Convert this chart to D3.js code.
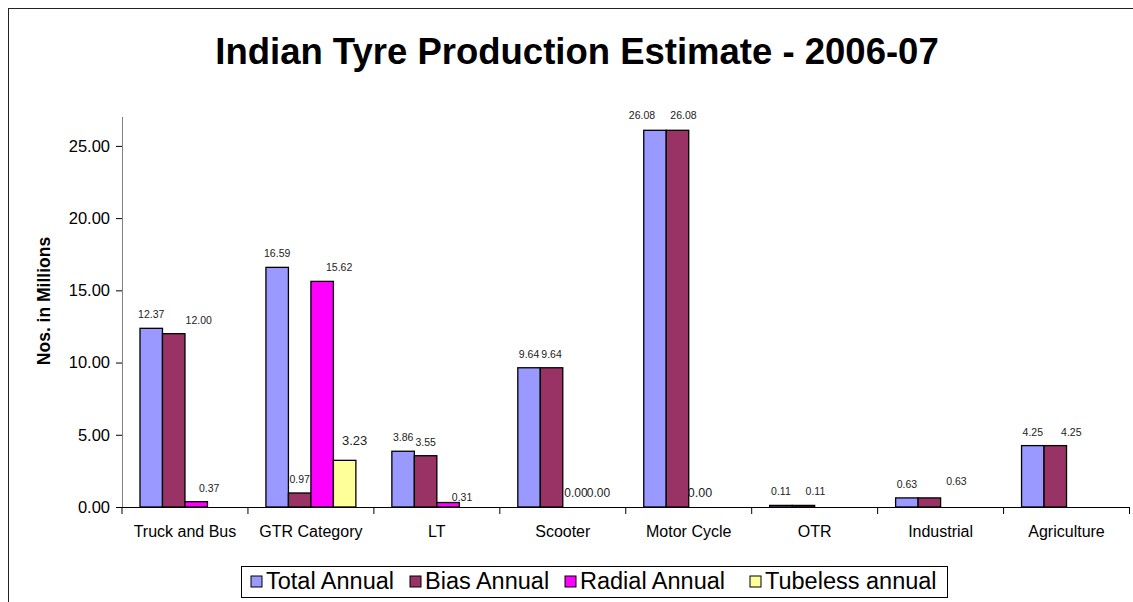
<!DOCTYPE html>
<html>
<head>
<meta charset="utf-8">
<script src="https://cdn.jsdelivr.net/npm/d3@7"></script>
<style>
  body { margin: 0; background: #fff; }
  svg { display: block; font-family: Arial, "Liberation Sans", sans-serif; }
</style>
</head>
<body>
<svg id="chart" width="1133" height="602"></svg>
<script>
const categories = ["Truck and Bus", "GTR Category", "LT", "Scooter", "Motor Cycle", "OTR", "Industrial", "Agriculture"];
const seriesNames = ["Total Annual", "Bias Annual", "Radial Annual", "Tubeless annual"];
const totalAnnual = [12.37, 16.59, 3.86, 9.64, 26.08, 0.11, 0.63, 4.25];
const biasAnnual = [12.00, 0.97, 3.55, 9.64, 26.08, 0.11, 0.63, 4.25];
const radialAnnual = [0.37, 15.62, 0.31, 0.00, 0.00, null, null, null];
const tubelessAnnual = [null, 3.23, null, 0.00, null, null, null, null];
const yTicks = [0, 5, 10, 15, 20, 25];

const colors = ["#9999ff", "#993366", "#ff00ff", "#ffff99"];

// label nudges: [category index, series index, dx, dy, font size]
const labelNudge = [
    [0, 1, 25, 0], [0, 2, 13, 0],
    [1, 2, 17, 0], [1, 3, 10, -5, 13],
    [2, 2, 14, 8],
    [3, 2, 2, 0, 12], [3, 3, 2, 0, 12],
    [4, 0, -13, -1], [4, 1, 6, -1], [4, 2, 0, 0, 12.5],
    [5, 1, 12, 0],
    [6, 1, 27, -3],
    [7, 1, 16, 0]
];

const allSeries = [totalAnnual, biasAnnual, radialAnnual, tubelessAnnual];

const svg = d3.select("#chart");

// outer frame
svg.append("rect")
    .attr("x", 8.5).attr("y", 8.5)
    .attr("width", 1140).attr("height", 610)
    .attr("fill", "none")
    .attr("stroke", "#222");

svg.append("text")
    .attr("x", 577).attr("y", 64)
    .attr("text-anchor", "middle")
    .style("font-size", "36.5px")
    .style("font-weight", "bold")
    .text("Indian Tyre Production Estimate - 2006-07");

const x = d3.scaleBand().domain(categories).range([122, 1129.5]).padding(0);
const xs = d3.scaleBand().domain(d3.range(4)).range([0, x.bandwidth()]).paddingInner(0).paddingOuter(0.8);
const y = d3.scaleLinear().domain([0, 27]).range([507, 117]);

// y axis
const yAxis = svg.append("g")
    .attr("transform", "translate(122,0)")
    .call(d3.axisLeft(y).tickValues(yTicks).tickSize(6).tickPadding(6).tickFormat(d3.format(".2f")));
yAxis.select(".domain").attr("stroke", "#808080").attr("d", "M0.5,117V507");
yAxis.selectAll(".tick line").attr("stroke", "#000");
yAxis.selectAll(".tick text")
    .style("font-size", "16.5px")
    .attr("fill", "#000")
    .attr("font-family", "Arial, 'Liberation Sans', sans-serif");

// bars
const rows = [];
categories.forEach((c, i) => {
    allSeries.forEach((s, j) => {
        if (s[i] !== null) rows.push({ cat: c, ci: i, si: j, value: s[i] });
    });
});

svg.append("g").selectAll("rect")
    .data(rows.filter(d => d.value > 0))
    .enter().append("rect")
    .attr("x", d => x(d.cat) + xs(d.si))
    .attr("y", d => y(d.value))
    .attr("width", xs.bandwidth())
    .attr("height", d => y(0) - y(d.value))
    .attr("fill", d => colors[d.si])
    .attr("stroke", "#000")
    .attr("stroke-width", 1.3);

// x axis
const xAxis = svg.append("g")
    .attr("transform", "translate(0,507)");
xAxis.append("line")
    .attr("x1", 116).attr("x2", 1130)
    .attr("y1", 0.5).attr("y2", 0.5)
    .attr("stroke", "#000");
xAxis.selectAll(".xtick")
    .data(categories.concat(["end"]))
    .enter().append("line")
    .attr("x1", (d, i) => i < categories.length ? x(d) : x.range()[1])
    .attr("x2", (d, i) => i < categories.length ? x(d) : x.range()[1])
    .attr("y1", 0).attr("y2", 7)
    .attr("stroke", "#000");
xAxis.selectAll(".xlabel")
    .data(categories)
    .enter().append("text")
    .attr("x", d => x(d) + x.bandwidth() / 2)
    .attr("y", 30)
    .attr("text-anchor", "middle")
    .style("font-size", "16px")
    .text(d => d);

// y title
svg.append("text")
    .attr("transform", "translate(50,301) rotate(-90)")
    .attr("text-anchor", "middle")
    .style("font-size", "17.5px")
    .style("font-weight", "bold")
    .text("Nos. in Millions");

// data labels
const nudgeOf = d => labelNudge.find(n => n[0] === d.ci && n[1] === d.si) || [d.ci, d.si, 0, 0];
svg.append("g").selectAll("text")
    .data(rows)
    .enter().append("text")
    .attr("x", d => x(d.cat) + xs(d.si) + xs.bandwidth() / 2 + nudgeOf(d)[2])
    .attr("y", d => y(d.value) - 10 + nudgeOf(d)[3])
    .attr("text-anchor", "middle")
    .style("font-size", d => (nudgeOf(d)[4] || 10.5) + "px")
    .attr("fill", "#222")
    .text(d => d.value.toFixed(2));

// legend
const legend = svg.append("g");
legend.append("rect")
    .attr("x", 241.5).attr("y", 566.5)
    .attr("width", 706).attr("height", 31)
    .attr("fill", "#fff")
    .attr("stroke", "#000");
const legendX = [251, 410, 565, 750];
const items = legend.selectAll(".item")
    .data(seriesNames)
    .enter().append("g")
    .attr("transform", (d, i) => `translate(${legendX[i]},576)`);
items.append("rect")
    .attr("width", 11).attr("height", 11)
    .attr("fill", (d, i) => colors[i])
    .attr("stroke", "#000");
items.append("text")
    .attr("x", 15).attr("y", 13)
    .style("font-size", "23.5px")
    .text(d => d);
</script>
</body>
</html>
